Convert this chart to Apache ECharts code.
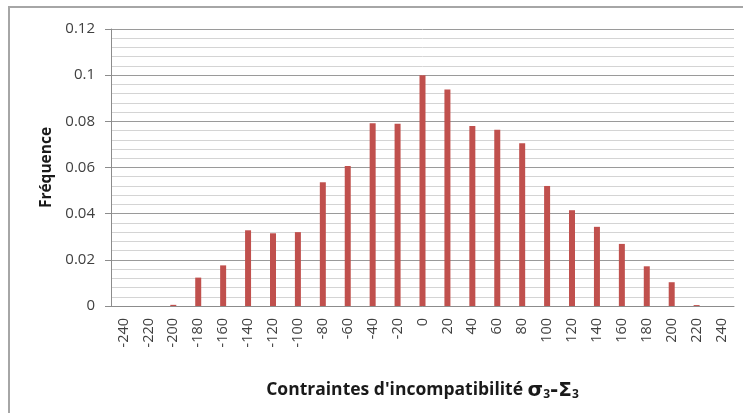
<!DOCTYPE html>
<html><head><meta charset="utf-8">
<script src="https://cdn.jsdelivr.net/npm/echarts@6/dist/echarts.min.js"></script>
<style>html,body{margin:0;padding:0;background:#fff}#c{width:743px;height:413px}</style>
</head><body><div id="c"></div>
<script>
var categories = ['-240','-220','-200','-180','-160','-140','-120','-100','-80','-60','-40','-20','0','20','40','60','80','100','120','140','160','180','200','220','240'];
var frequencies = [0,0,0.0005,0.0123,0.0176,0.0328,0.0315,0.032,0.0536,0.0606,0.0792,0.079,0.1,0.0938,0.078,0.0763,0.0705,0.052,0.0415,0.0343,0.0269,0.0172,0.0103,0.0004,0];
var yTicks = {min:0, max:0.12, step:0.02};

var chart = echarts.init(document.getElementById('c'));
chart.setOption({
  animation:false,
  backgroundColor:'#fff',
  graphic:[{type:'rect',shape:{x:9,y:7,width:800,height:500},style:{fill:'none',stroke:'#a6a6a6',lineWidth:2}}],
  grid:{left:111,top:29,right:9,bottom:107},
  xAxis:{
    type:'category', data:categories,
    axisLine:{lineStyle:{color:'#8c8c8c',width:1}},
    axisTick:{show:false},
    axisLabel:{rotate:90,interval:0,margin:12,fontFamily:'Open Sans',fontSize:14.5,color:'#404040'},
    name:'Contraintes d\'incompatibilité {g|σ}{s|3}{g|-Σ}{s|3}',
    nameLocation:'middle', nameGap:74,
    nameTextStyle:{fontFamily:'Open Sans',fontWeight:'bold',fontSize:17.5,color:'#1a1a1a',
      rich:{g:{fontFamily:'DejaVu Sans',fontWeight:'bold',fontSize:20,color:'#1a1a1a'},
            s:{fontFamily:'Open Sans',fontWeight:'bold',fontSize:12,color:'#1a1a1a',verticalAlign:'bottom',padding:[9,0,0,0]}}}
  },
  yAxis:{
    type:'value', min:yTicks.min, max:yTicks.max, interval:yTicks.step,
    axisLine:{show:true,lineStyle:{color:'#8c8c8c'}},
    axisTick:{show:true,length:6,lineStyle:{color:'#8c8c8c'}},
    minorTick:{show:false,splitNumber:5},
    minorSplitLine:{show:true,lineStyle:{color:'#d4d4d4',width:1}},
    splitLine:{lineStyle:{color:'#9a9a9a',width:1}},
    axisLabel:{fontFamily:'Open Sans',fontSize:15,color:'#404040',margin:16,
      formatter:function(v){return String(parseFloat(v.toFixed(4)));}},
    name:'Fréquence', nameLocation:'middle', nameGap:56,
    nameTextStyle:{fontFamily:'Open Sans',fontWeight:'bold',fontSize:15.5,color:'#1a1a1a'}
  },
  series:[{type:'bar',data:frequencies,barWidth:6,itemStyle:{color:'#C0504D'}}]
});
</script></body></html>
